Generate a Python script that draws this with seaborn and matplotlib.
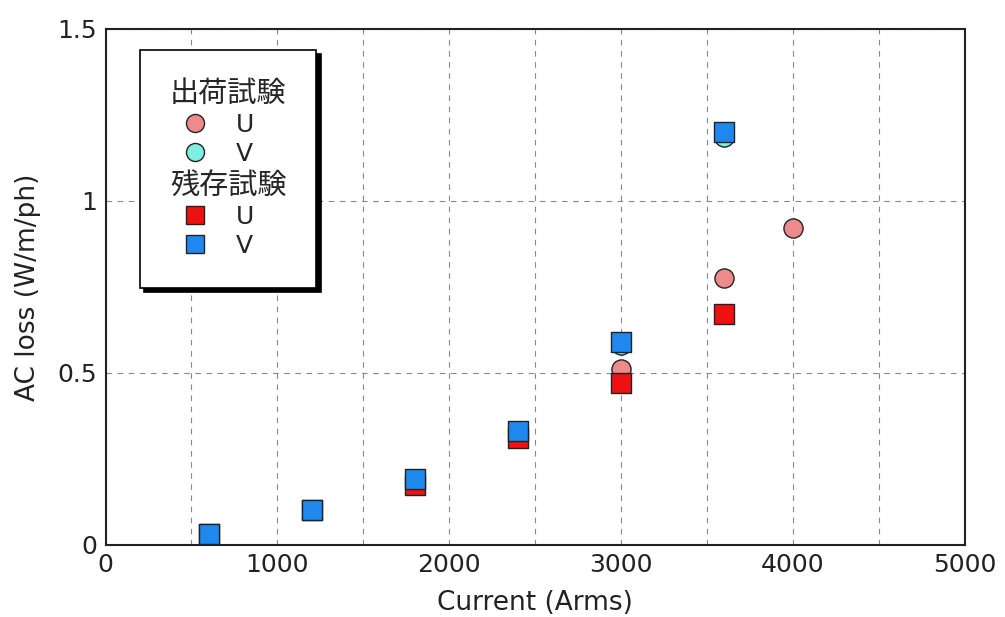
import numpy as np
import pandas as pd
import seaborn as sns
import matplotlib.pyplot as plt
from matplotlib.lines import Line2D
from matplotlib.ticker import MultipleLocator

# 出荷試験 (shipping test)
ship_current = [600, 1200, 1800, 2400, 3000, 3600, 4000]
ship_u = [0.03, 0.10, 0.18, 0.32, 0.51, 0.775, 0.92]
ship_v_current = [600, 1200, 1800, 2400, 3000, 3600]
ship_v = [0.03, 0.10, 0.19, 0.33, 0.58, 1.185]

# 残存試験 (residual test)
res_current = [600, 1200, 1800, 2400, 3000, 3600]
res_u = [0.03, 0.10, 0.175, 0.31, 0.47, 0.67]
res_v = [0.03, 0.10, 0.19, 0.33, 0.59, 1.20]

x_ticks = [0, 1000, 2000, 3000, 4000, 5000]
y_ticks = [0, 0.5, 1, 1.5]
y_ticklabels = ['0', '0.5', '1', '1.5']

sns.set_theme(style='white')
plt.rcParams['font.family'] = ['DejaVu Sans', 'Noto Sans CJK JP']

fig = plt.figure(figsize=(10.05, 6.17), dpi=100)
ax = fig.add_axes([0.105, 0.117, 0.855, 0.836])

colors = {'ship_u': '#ec8a8c', 'ship_v': '#80eee0', 'res_u': '#ee1111', 'res_v': '#1e88ee'}
series = [
	(ship_current, ship_u, 'o', colors['ship_u']),
	(ship_v_current, ship_v, 'o', colors['ship_v']),
	(res_current, res_u, 's', colors['res_u']),
	(res_current, res_v, 's', colors['res_v']),
]
for xs, ys, m, c in series:
	df = pd.DataFrame({'x': xs, 'y': ys})
	sns.scatterplot(data=df, x='x', y='y', marker=m, color=c, s=190,
		edgecolor='#222222', linewidth=1.0, ax=ax, zorder=3, legend=False)

ax.set_xlim(0, 5000)
ax.set_ylim(0, 1.5)
ax.set_xticks(x_ticks)
ax.xaxis.set_minor_locator(MultipleLocator(500))
ax.set_yticks(y_ticks)
ax.set_yticklabels(y_ticklabels)
ax.grid(True, which='both', axis='x', linestyle=(0, (5, 5)), color='#888888', lw=0.8)
ax.grid(True, which='major', axis='y', linestyle=(0, (5, 5)), color='#888888', lw=0.8)
ax.tick_params(axis='both', which='both', direction='in', labelsize=18, length=4,
	color='#555555', labelcolor='#222222')
ax.tick_params(axis='x', which='major', pad=6)
ax.tick_params(axis='y', which='major', pad=6)
for sp in ax.spines.values():
	sp.set_color('#222222')
	sp.set_linewidth(1.5)

ax.set_xlabel('Current (Arms)', fontsize=19, color='#222222', labelpad=9)
ax.set_ylabel('AC loss (W/m/ph)', fontsize=19, color='#222222', labelpad=12)

# legend with two group headings
blank = Line2D([], [], linestyle='none', marker=None)
def sample(m, c):
	return Line2D([], [], ls='none', marker=m, ms=13, mfc=c, mec='#222222')
handles = [blank, sample('o', colors['ship_u']), sample('o', colors['ship_v']),
	blank, sample('s', colors['res_u']), sample('s', colors['res_v'])]
labels = ['出荷試験', 'U', 'V', '残存試験', 'U', 'V']
leg = ax.legend(handles, labels, loc='upper left', bbox_to_anchor=(0.04, 0.96),
	fontsize=18, frameon=True, fancybox=False,
	shadow={'color': 'black', 'alpha': 1, 'ox': 3, 'oy': -3},
	edgecolor='black', framealpha=1, borderpad=1.2, labelspacing=0.21,
	handlelength=0, handletextpad=0, borderaxespad=0)
leg.get_frame().set_linewidth(1.2)
texts = leg.get_texts()
for i in (0, 3):
	texts[i].set_fontsize(21)
for i in (1, 2, 4, 5):
	texts[i].set_x(66)
	h = leg.legend_handles[i]
	h.set_xdata(np.asarray(h.get_xdata(), dtype=float) + 18)

fig.savefig('out.png', dpi=100)
